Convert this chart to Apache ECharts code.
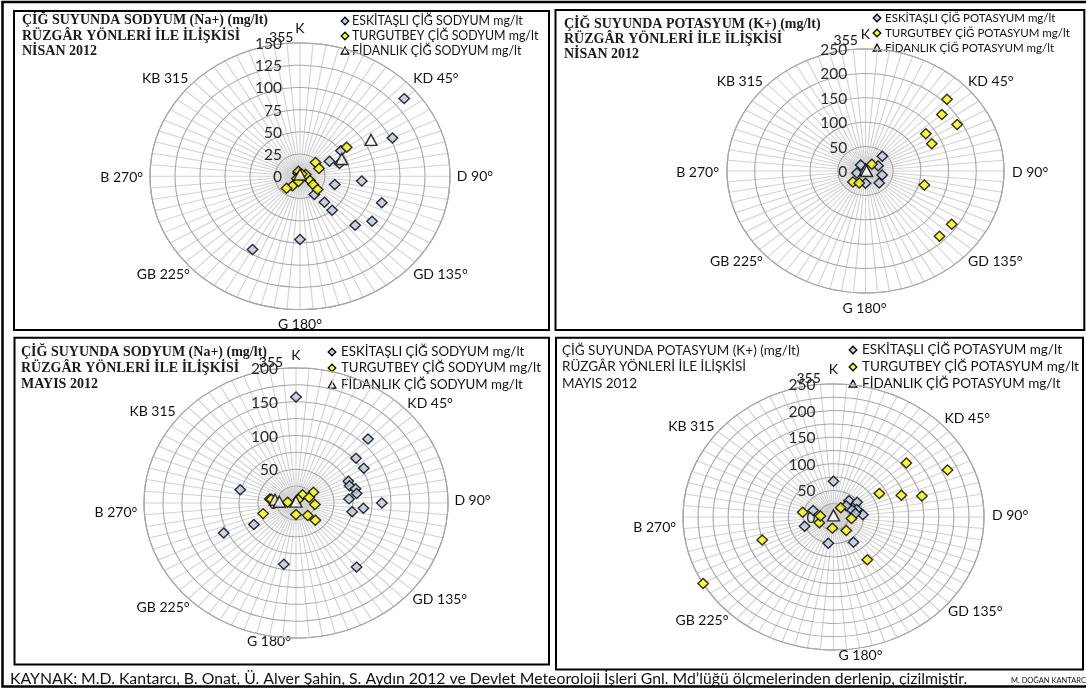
<!DOCTYPE html>
<html lang="tr"><head><meta charset="utf-8"><title>Çiğ suyunda sodyum ve potasyum - rüzgâr yönleri</title>
<script src="https://cdn.jsdelivr.net/npm/echarts@6.0.0/dist/echarts.min.js"></script>
<style>
html,body{margin:0;padding:0;background:#fff;}
#stage{position:relative;width:1086px;height:691px;overflow:hidden;background:#fff;}
#main{position:absolute;left:0;top:0;width:1086px;height:691px;}
.polar{position:absolute;transform-origin:0 0;}
</style></head><body>
<div id="stage"><div id="main"></div><div id="pc0" class="polar"></div><div id="pc1" class="polar"></div><div id="pc2" class="polar"></div><div id="pc3" class="polar"></div></div>
<script>
// ---- categories: wind directions (degrees) ----
const DIRECTIONS = [0,5,10,15,20,25,30,35,40,45,50,55,60,65,70,75,80,85,90,95,100,105,110,115,120,125,130,135,140,145,150,155,160,165,170,175,180,185,190,195,200,205,210,215,220,225,230,235,240,245,250,255,260,265,270,275,280,285,290,295,300,305,310,315,320,325,330,335,340,345,350,355];
const DIRECTION_LABELS = {0:'K',45:'KD 45°',90:'D 90°',135:'GD 135°',180:'G 180°',225:'GB 225°',270:'B 270°',315:'KB 315',355:'355'};

// ---- values: [direction°, mg/lt] ----
const NA_NISAN_ESKITASLI = [[50,136],[65,102],[55,50],[60,34],[70,42],[95,62],[105,36],[110,87],[125,88],[135,78],[140,38],[140,50],[145,25],[180,71],[210,95],[330,4]];
const NA_NISAN_TURGUTBEY = [[55,57],[45,22],[65,21],[70,6],[345,6],[35,3],[230,4],[215,13],[225,19],[115,11],[125,16],[130,23],[195,6]];
const NA_NISAN_FIDANLIK  = [[60,82],[65,46],[0,2]];

const K_NISAN_ESKITASLI = [[45,43],[65,25],[105,31],[135,35],[180,25],[325,15],[255,16]];
const K_NISAN_TURGUTBEY = [[45,208],[50,180],[60,191],[55,133],[65,132],[105,110],[125,190],[135,189],[225,32],[40,18],[205,27]];
const K_NISAN_FIDANLIK  = [[0,3],[90,2]];

const NA_MAYIS_ESKITASLI = [[0,157],[45,134],[50,103],[60,103],[65,76],[70,75],[75,81],[80,81],[85,70],[90,113],[95,89],[100,75],[140,124],[190,92],[245,105],[240,64],[285,76],[280,35]];
const NA_MAYIS_TURGUTBEY = [[55,28],[35,15],[65,19],[95,25],[140,24],[135,36],[180,17],[250,46],[275,11],[280,33],[30,6]];
const NA_MAYIS_FIDANLIK  = [[280,28],[275,22],[0,2]];

const K_MAYIS_ESKITASLI = [[0,67],[40,40],[55,48],[85,49],[70,41],[65,33],[45,30],[145,58],[190,50],[250,51],[290,36],[80,37]];
const K_MAYIS_TURGUTBEY = [[65,209],[50,158],[60,88],[70,120],[75,152],[35,21],[95,30],[140,33],[145,98],[185,21],[245,26],[275,22],[280,52],[250,126],[240,250]];
const K_MAYIS_FIDANLIK  = [[0,3]];

// ---- texts ----
const STATIONS = ['ESKİTAŞLI','TURGUTBEY','FİDANLIK'];
const ELEMENTS = ['SODYUM','POTASYUM','SODYUM','POTASYUM'];
const TITLES = [
  'ÇİĞ SUYUNDA SODYUM (Na+) (mg/lt)\nRÜZGÂR YÖNLERİ İLE İLİŞKİSİ\nNİSAN 2012',
  'ÇİĞ SUYUNDA POTASYUM (K+) (mg/lt)\nRÜZGÂR YÖNLERİ İLE İLİŞKİSİ\nNİSAN 2012',
  'ÇİĞ SUYUNDA SODYUM (Na+) (mg/lt)\nRÜZGÂR YÖNLERİ İLE İLİŞKİSİ\nMAYIS 2012',
  'ÇİĞ SUYUNDA POTASYUM (K+) (mg/lt)\nRÜZGÂR YÖNLERİ İLE İLİŞKİSİ\nMAYIS 2012'
];
const FOOTER = 'KAYNAK: M.D. Kantarcı, B. Onat, Ü. Alver Şahin, S. Aydın 2012 ve Devlet Meteoroloji İşleri Gnl. Md’lüğü ölçmelerinden derlenip, çizilmiştir.';
const AUTHOR = 'M. DOĞAN KANTARCI';

const PANEL_SERIES = [
  [NA_NISAN_ESKITASLI, NA_NISAN_TURGUTBEY, NA_NISAN_FIDANLIK],
  [K_NISAN_ESKITASLI, K_NISAN_TURGUTBEY, K_NISAN_FIDANLIK],
  [NA_MAYIS_ESKITASLI, NA_MAYIS_TURGUTBEY, NA_MAYIS_FIDANLIK],
  [K_MAYIS_ESKITASLI, K_MAYIS_TURGUTBEY, K_MAYIS_FIDANLIK]
];
const RADIUS_MAX = [150, 250, 200, 250];
const RADIUS_STEP = [25, 50, 25, 25];
const RADIUS_LABEL_STEP = [25, 50, 50, 50];

// ---- styling / layout ----
const SANS = "Lato,'Liberation Sans',sans-serif";
const SERIF = "'Liberation Serif','DejaVu Serif',serif";
const FILLS = ['#b9cde5', '#ffff00', '#ffffff'];

const LAYOUT = [
  {cx:300, cy:176, rx:150, ry:133.3, box:[14,11,549,330],
   title:{x:22, y:13, font:SERIF, size:14, lh:15.5, weight:'bold'},
   legend:{sx:345, tx:352, ys:[21,36,51], size:12.4}},
  {cx:865.5, cy:171, rx:138.5, ry:122, box:[555.5,10,1084.3,330],
   title:{x:564, y:17, font:SERIF, size:14, lh:15, weight:'bold'},
   legend:{sx:877, tx:885, ys:[18,33,48], size:11.5}},
  {cx:296.3, cy:503.3, rx:152, ry:135, box:[14.5,337.7,549,664.5],
   title:{x:21, y:344, font:SERIF, size:14, lh:16, weight:'bold'},
   legend:{sx:332, tx:341, ys:[352,368,385], size:13.3}},
  {cx:833, cy:517.3, rx:150.5, ry:133, box:[556,337.7,1083,669.5],
   title:{x:562, y:342, font:SANS, size:13.5, lh:16.5, weight:'normal'},
   legend:{sx:853, tx:862, ys:[350,367,384], size:13.5}}
];
// fine placement of the direction labels, as in the original sheet (pixels)
const LABEL_NUDGE = [
  {'K':[0,-2],'355':[-5,7],'KD 45°':[1.5,7],'D 90°':[-1,-1],'GD 135°':[1.5,-9],'G 180°':[0,-0.5],'GB 225°':[1.5,-9],'B 270°':[1,0],'KB 315':[0,7]},
  {'K':[0,-2],'355':[-7,4.5],'KD 45°':[-1,8],'D 90°':[0,0],'GD 135°':[-1,-9],'G 180°':[-1,0],'GB 225°':[1,-9],'B 270°':[0,0],'KB 315':[1,8]},
  {'K':[0,0],'355':[-11,7],'KD 45°':[-1.7,7.4],'D 90°':[-1.5,-3.3],'GD 135°':[3.5,-12.4],'G 180°':[-27,-11.3],'GB 225°':[6.7,-4],'B 270°':[1.2,8.4],'KB 315':[-7.2,15.1]},
  {'K':[0,-2],'355':[-11,7],'KD 45°':[-1,6.4],'D 90°':[0,-3],'GD 135°':[2.4,-12.3],'G 180°':[27,-10],'GB 225°':[7,-3.3],'B 270°':[1,9.4],'KB 315':[-7,14.4]}
];

const PAD_X = 95, PAD_Y = 40;

function polarOption(i, s, w0, h0) {
  const L = LAYOUT[i];
  return {
    animation: false,
    polar: { center: [w0 / 2, h0 / 2], radius: L.ry },
    angleAxis: {
      type: 'value', min: 0, max: 360, interval: 5, startAngle: 90, clockwise: true,
      axisLine: { show: true, lineStyle: { color: '#9a9a9a', width: 1 } },
      axisTick: { show: false },
      axisLabel: { margin: 7, fontSize: 14, color: '#111', fontFamily: SANS,
        formatter: v => (DIRECTION_LABELS[v] !== undefined && v < 360) ? DIRECTION_LABELS[v] : '' },
      splitLine: { show: true, lineStyle: { color: '#d2d2d2', width: 1 } }
    },
    radiusAxis: {
      type: 'value', min: 0, max: RADIUS_MAX[i], interval: RADIUS_STEP[i],
      axisLine: { show: false }, axisTick: { show: false },
      axisLabel: { margin: 16, fontSize: 15.5, color: '#2a2a2a', fontFamily: SANS,
        formatter: v => (v % RADIUS_LABEL_STEP[i] === 0 ? String(v) : '') },
      splitLine: { show: true, lineStyle: { color: '#a8a8a8', width: 1 } },
      z: 1
    },
    series: PANEL_SERIES[i].map((arr, k) => ({
      type: 'scatter', coordinateSystem: 'polar',
      name: STATIONS[k] + ' ÇİĞ ' + ELEMENTS[i] + ' mg/lt',
      symbol: k === 2 ? 'triangle' : 'diamond',
      symbolSize: k === 2 ? [12 / s, 11] : [10.5 / s, 10],
      itemStyle: { color: FILLS[k], borderColor: '#000', borderWidth: 1.35 },
      data: arr.map(([dir, val]) => [val, dir]),
      z: 3 + k
    }))
  };
}

// the plot is stretched horizontally (elliptic radar); keep its texts at their natural width
function unstretchTexts(el, s, nudge) {
  el.querySelectorAll('text').forEach(t => {
    if (t.getAttribute('data-fx')) return;
    const x = parseFloat(t.getAttribute('x') || 0), y = parseFloat(t.getAttribute('y') || 0);
    const tr = t.getAttribute('transform') || '';
    const n = nudge[(t.textContent || '').replace(/\u00a0/g, ' ').trim()] || [0, 0];
    t.setAttribute('transform', tr + ' translate(' + (n[0] / s) + ' ' + n[1] + ') translate(' + x + ' ' + y + ') scale(' + (1 / s) + ' 1) translate(' + (-x) + ' ' + (-y) + ')');
    t.setAttribute('data-fx', '1');
  });
}

LAYOUT.forEach((L, i) => {
  const s = L.rx / L.ry;
  const w0 = 2 * L.ry + 2 * PAD_X / s;
  const h0 = 2 * L.ry + 2 * PAD_Y;
  const el = document.getElementById('pc' + i);
  el.style.width = w0 + 'px';
  el.style.height = h0 + 'px';
  el.style.left = (L.cx - s * w0 / 2) + 'px';
  el.style.top = (L.cy - h0 / 2) + 'px';
  el.style.transform = 'scaleX(' + s + ')';
  const chart = echarts.init(el, null, { renderer: 'svg', width: w0, height: h0 });
  chart.on('finished', () => unstretchTexts(el, s, LABEL_NUDGE[i]));
  chart.setOption(polarOption(i, s, w0, h0));
  chart.getZr().flush();
  unstretchTexts(el, s, LABEL_NUDGE[i]);
});

// ---- frame, titles, legends, footer ----
const graphic = [];
graphic.push({ type: 'rect', shape: { x: 2.5, y: 2, width: 1100, height: 684.5 }, style: { fill: null, stroke: '#000', lineWidth: 2.5 } });
LAYOUT.forEach((L, i) => {
  const [x0, y0, x1, y1] = L.box;
  graphic.push({ type: 'rect', shape: { x: x0, y: y0, width: x1 - x0, height: y1 - y0 }, style: { fill: null, stroke: '#000', lineWidth: 2 } });
  L.legend.ys.forEach((y, k) => {
    const x = L.legend.sx, h = 3.8;
    const pts = k === 2 ? [[x, y - h], [x + h, y + h * 0.8], [x - h, y + h * 0.8]]
                        : [[x, y - h], [x + h, y], [x, y + h], [x - h, y]];
    graphic.push({ type: 'polygon', shape: { points: pts }, style: { fill: FILLS[k], stroke: '#000', lineWidth: 1.3 } });
    graphic.push({ type: 'text', x: L.legend.tx, y: y, style: {
      text: STATIONS[k] + ' ÇİĞ ' + ELEMENTS[i] + ' mg/lt', fill: '#111', font: L.legend.size + 'px ' + SANS,
      verticalAlign: 'middle', align: 'left' } });
  });
});

const titles = LAYOUT.map((L, i) => ({
  text: TITLES[i], left: L.title.x, top: L.title.y, padding: 0,
  textStyle: { fontFamily: L.title.font, fontSize: L.title.size, lineHeight: L.title.lh, color: '#1a1a1a', fontWeight: L.title.weight }
}));
titles.push({ text: FOOTER, left: 10, top: 671, padding: 0, textStyle: { fontFamily: SANS, fontSize: 15.8, color: '#111', fontWeight: 'normal' } });
titles.push({ text: AUTHOR, left: 1011, top: 677, padding: 0, textStyle: { fontFamily: SANS, fontSize: 7.5, color: '#111', fontWeight: 'normal' } });

const main = echarts.init(document.getElementById('main'), null, { renderer: 'canvas', width: 1086, height: 691 });
main.setOption({ animation: false, backgroundColor: '#fff', title: titles, graphic: graphic });
</script></body></html>
